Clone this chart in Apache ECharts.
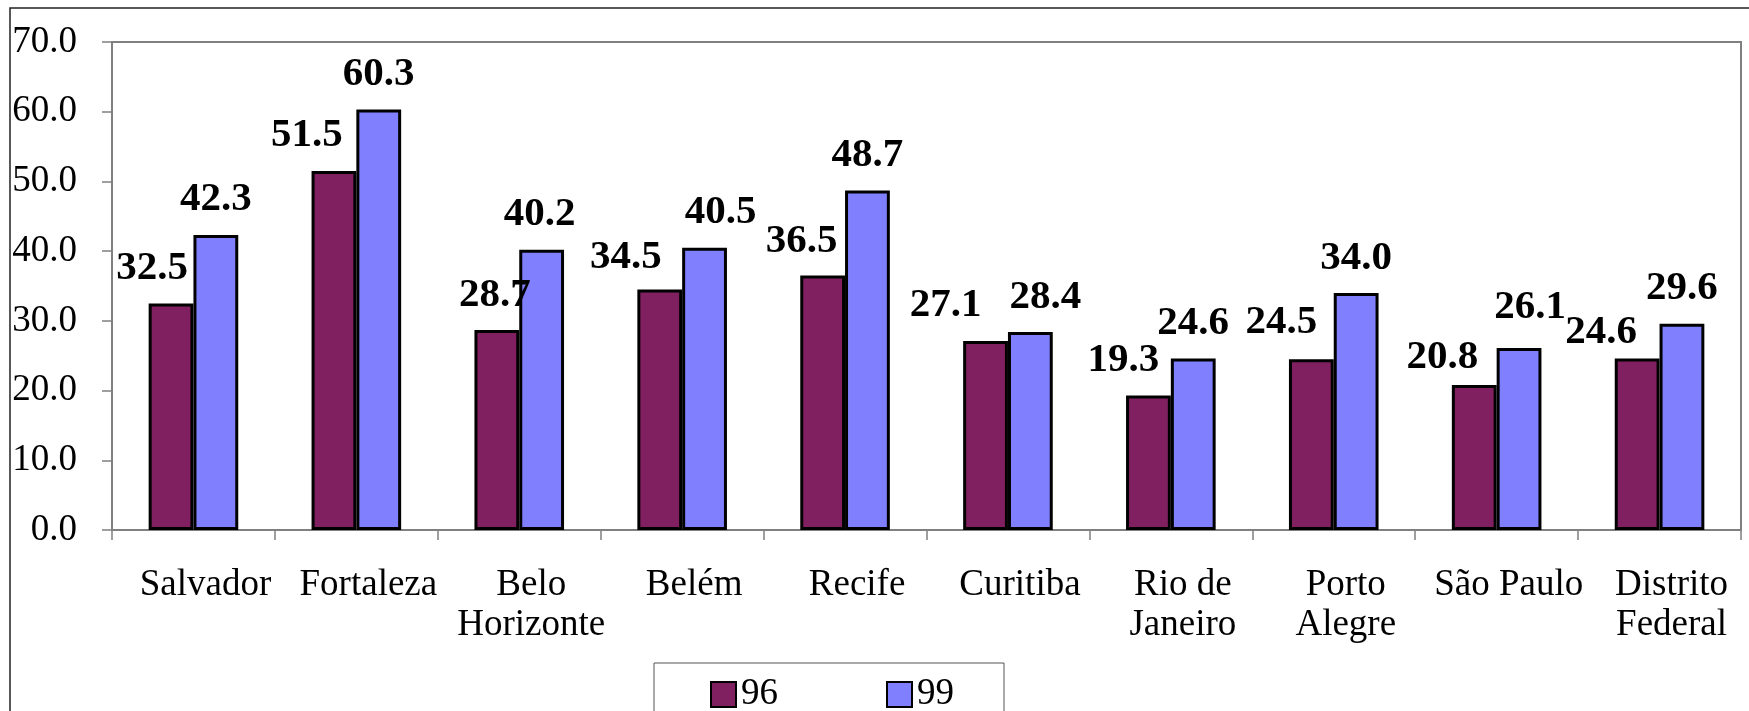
<!DOCTYPE html>
<html>
<head>
<meta charset="utf-8">
<script src="https://cdn.jsdelivr.net/npm/echarts@6/dist/echarts.min.js"></script>
<style>
  html, body { margin: 0; padding: 0; background: #ffffff; }
  #chart { width: 1749px; height: 711px; }
</style>
</head>
<body>
<div id="chart"></div>
<script>
// ---- data ----
const categories = ['Salvador', 'Fortaleza', 'Belo\nHorizonte', 'Belém', 'Recife', 'Curitiba', 'Rio de\nJaneiro', 'Porto\nAlegre', 'São Paulo', 'Distrito\nFederal'];
const seriesNames = ['96', '99'];
const values96 = [32.5, 51.5, 28.7, 34.5, 36.5, 27.1, 19.3, 24.5, 20.8, 24.6];
const values99 = [42.3, 60.3, 40.2, 40.5, 48.7, 28.4, 24.6, 34.0, 26.1, 29.6];
const yTicks = [0, 10, 20, 30, 40, 50, 60, 70];

// ---- label nudges (style only) ----
const nudge96x = [-19, -27, -2, -34, -21, -40, -25, -30, -32, -36];
const nudge96y = [0, 0, 1, 3, 1, 0, 0, -1, 8, 9];
const nudge99x = [0, 0, -2, 16, 0, 15, 0, 0, 11, 0];
const nudge99y = [0, 0, 0, 0, 0, 1, 0, 1, -5, 0];

const FONT = "'Liberation Serif', 'Times New Roman', serif";

function buildData(vals, nx, ny) {
  return vals.map((v, i) => ({ value: v, label: { offset: [nx[i], ny[i]] } }));
}

const chart = echarts.init(document.getElementById('chart'), null, { renderer: 'canvas' });

const labelStyle = {
  show: true,
  position: 'top',
  distance: 15,
  fontFamily: FONT,
  fontSize: 41,
  fontWeight: 'bold',
  color: '#000',
  formatter: p => Number(p.value).toFixed(1)
};

chart.setOption({
  backgroundColor: '#ffffff',
  animation: false,
  graphic: [{
    type: 'rect',
    shape: { x: 10, y: 8, width: 1800, height: 800 },
    style: { fill: 'none', stroke: '#222', lineWidth: 1.5 },
    silent: true,
    z: -1
  }],
  grid: {
    left: 112, right: 8, top: 42, bottom: 181,
    show: true, borderColor: '#808080', borderWidth: 2, backgroundColor: 'transparent'
  },
  legend: {
    left: 654, top: 663,
    orient: 'horizontal',
    data: seriesNames,
    itemWidth: 25, itemHeight: 25, itemGap: 108,
    padding: [13, 50, 40, 56],
    borderColor: '#555', borderWidth: 1,
    textStyle: { fontFamily: FONT, fontSize: 37, color: '#000' },
    icon: 'rect'
  },
  xAxis: {
    type: 'category',
    data: categories,
    axisLine: { show: true, lineStyle: { color: '#808080', width: 2 } },
    axisTick: { show: true, length: 10, lineStyle: { color: '#808080', width: 1.5 } },
    axisLabel: {
      interval: 0, margin: 35, fontFamily: FONT, fontSize: 37, lineHeight: 40,
      color: '#000', padding: [0, 0, 0, 24]
    },
    splitLine: { show: false }
  },
  yAxis: {
    type: 'value',
    min: yTicks[0], max: yTicks[yTicks.length - 1], interval: 10,
    axisLine: { show: true, lineStyle: { color: '#808080', width: 2 } },
    axisTick: { show: true, length: 10, lineStyle: { color: '#808080', width: 1.5 } },
    axisLabel: {
      margin: 35, fontFamily: FONT, fontSize: 37, color: '#000',
      formatter: v => v.toFixed(1)
    },
    splitLine: { show: false }
  },
  series: [
    {
      name: seriesNames[0], type: 'bar',
      data: buildData(values96, nudge96x, nudge96y),
      barGap: '0%', barCategoryGap: '45%',
      itemStyle: { color: '#802060', borderColor: '#000', borderWidth: 3 },
      label: labelStyle
    },
    {
      name: seriesNames[1], type: 'bar',
      data: buildData(values99, nudge99x, nudge99y),
      barGap: '0%', barCategoryGap: '45%',
      itemStyle: { color: '#8080FF', borderColor: '#000', borderWidth: 3 },
      label: labelStyle
    }
  ]
});
</script>
</body>
</html>
